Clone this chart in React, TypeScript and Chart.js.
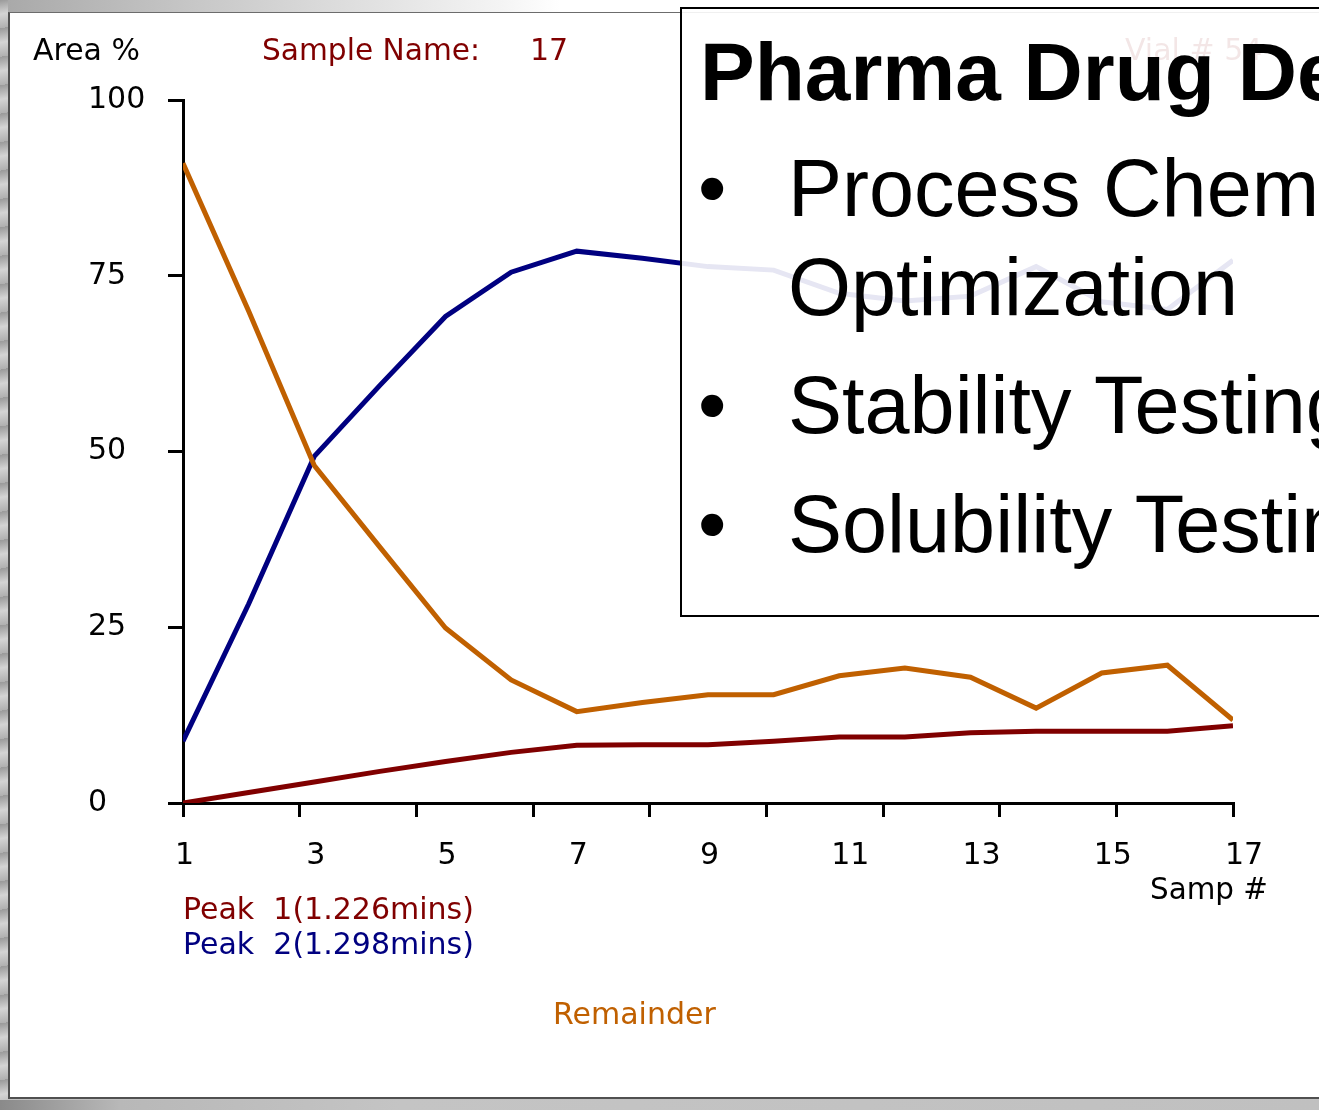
import React, { useEffect, useRef } from 'react';
import { Chart, registerables } from 'chart.js';

Chart.register(...registerables);

// ---- data ----
const samples = [1, 2, 3, 4, 5, 6, 7, 8, 9, 10, 11, 12, 13, 14, 15, 16, 17];
const peak1 = [0, 1.5, 3.0, 4.5, 5.9, 7.2, 8.2, 8.3, 8.3, 8.8, 9.4, 9.4, 10.0, 10.2, 10.2, 10.2, 11.0];
const peak2 = [8.8, 28.3, 49.3, 59.4, 69.2, 75.5, 78.5, 77.5, 76.3, 75.8, 72.5, 71.4, 72.1, 76.3, 71.3, 70.2, 77.2];
const remainder = [91.0, 70.0, 48.0, 36.4, 24.9, 17.5, 13.0, 14.3, 15.4, 15.4, 18.1, 19.2, 17.9, 13.5, 18.5, 19.6, 11.8];

const seriesLabels = ['Peak  1(1.226mins)', 'Peak  2(1.298mins)', 'Remainder'];
const seriesColors = ['#800000', '#000080', '#C06000'];

const yTicks = [0, 25, 50, 75, 100];
const xLabelStep = 2;
const xTickMarkCount = 9; // intervals of the plain tick marks

const yAxisTitle = 'Area %';
const xAxisTitle = 'Samp #';
const sampleNameLabel = 'Sample Name:';
const sampleName = '17';
const vialLabel = 'Vial # 54';

const slideTitle = 'Pharma Drug Development';
const slideBullets = ['Process Chemistry', 'Stability Testing', 'Solubility Testing'];
const slideContinuation = 'Optimization';

const CHART_FONT = '"DejaVu Sans", sans-serif';
const SLIDE_FONT = '"Liberation Sans", Arial, sans-serif';

const overlayPlugin = {
  id: 'overlayTexts',
  afterDraw(chart: any) {
    const ctx: CanvasRenderingContext2D = chart.ctx;
    ctx.save();
    ctx.textAlign = 'left';
    ctx.textBaseline = 'alphabetic';
    ctx.font = `30px ${CHART_FONT}`;

    ctx.fillStyle = '#000';
    ctx.fillText(yAxisTitle, 33, 60, 107);
    ctx.fillStyle = '#800000';
    ctx.fillText(sampleNameLabel, 262, 60, 218);
    ctx.fillText(sampleName, 530, 60);
    ctx.fillText(vialLabel, 1125, 60);

    ctx.fillStyle = '#000';
    ctx.fillText(xAxisTitle, 1150, 899, 118);

    // legend (text in series colours)
    const ds = chart.data.datasets;
    const legendPos = [
      [183, 919, 295],
      [183, 954, 295],
      [553, 1024, 164],
    ];
    ds.forEach((d: any, i: number) => {
      ctx.fillStyle = d.borderColor;
      const [x, y, w] = legendPos[i];
      ctx.fillText(d.label, x, y, w);
    });

    // slide text box overlay
    ctx.fillStyle = 'rgba(255,255,255,0.9)';
    ctx.fillRect(681, 8, 700, 608);
    ctx.strokeStyle = '#000';
    ctx.lineWidth = 2;
    ctx.strokeRect(681, 8, 700, 608);

    ctx.fillStyle = '#000';
    ctx.font = `bold 82px ${SLIDE_FONT}`;
    ctx.fillText(slideTitle, 700, 100);
    ctx.font = `81px ${SLIDE_FONT}`;
    ctx.fillText('\u2022', 698, 216);
    ctx.fillText(slideBullets[0], 788, 216);
    ctx.fillText(slideContinuation, 788, 315);
    ctx.fillText('\u2022', 698, 433);
    ctx.fillText(slideBullets[1], 788, 433);
    ctx.fillText('\u2022', 698, 552);
    ctx.fillText(slideBullets[2], 788, 552);
    ctx.restore();
  },
};

export default function App() {
  const canvasRef = useRef<HTMLCanvasElement | null>(null);

  useEffect(() => {
    const canvas = canvasRef.current;
    if (!canvas) return;
    const data = [peak1, peak2, remainder];
    const chart = new Chart(canvas, {
      type: 'line',
      data: {
        datasets: data.map((vals, i) => ({
          label: seriesLabels[i],
          data: samples.map((s, j) => ({ x: s, y: vals[j] })),
          xAxisID: 'x',
          yAxisID: 'y',
          borderColor: seriesColors[i],
          backgroundColor: seriesColors[i],
          borderWidth: 5,
          pointRadius: 0,
          tension: 0,
          fill: false,
          order: 3 - i,
        })),
      },
      options: {
        responsive: false,
        animation: false,
        devicePixelRatio: 1,
        layout: { padding: { left: 88, top: 100, right: 86, bottom: 1110 - 803 - 14 - 70 } },
        plugins: { legend: { display: false }, tooltip: { enabled: false }, title: { display: false } },
        scales: {
          y: {
            type: 'linear',
            position: 'left',
            min: 0,
            max: 100,
            afterBuildTicks: (s: any) => {
              s.ticks = yTicks.map((v) => ({ value: v }));
            },
            afterFit: (s: any) => {
              s.width = 95;
            },
            ticks: {
              crossAlign: 'far',
              color: '#000',
              font: { family: CHART_FONT, size: 30 },
            },
            grid: { drawOnChartArea: false, drawTicks: true, tickLength: 15, color: '#000', lineWidth: 3 },
            border: { display: true, color: '#000', width: 3 },
          },
          x2: {
            type: 'linear',
            position: 'bottom',
            weight: 0,
            min: 0,
            max: xTickMarkCount,
            ticks: { display: false, stepSize: 1 },
            afterFit: (s: any) => {
              s.height = 14;
            },
            grid: { drawOnChartArea: false, drawTicks: true, tickLength: 14, color: '#000', lineWidth: 3 },
            border: { display: true, color: '#000', width: 3 },
          },
          x: {
            type: 'linear',
            position: 'bottom',
            weight: 1,
            min: samples[0],
            max: samples[samples.length - 1],
            afterFit: (s: any) => {
              s.height = 70;
            },
            ticks: {
              stepSize: xLabelStep,
              align: 'start',
              labelOffset: -8,
              padding: 21,
              autoSkip: false,
              maxRotation: 0,
              color: '#000',
              font: { family: CHART_FONT, size: 30 },
            },
            grid: { display: false, drawTicks: false },
            border: { display: false },
          },
        },
      },
      plugins: [overlayPlugin],
    } as any);
    return () => chart.destroy();
  }, []);

  return (
    <div
      style={{
        position: 'fixed',
        left: 0,
        top: 0,
        width: 1319,
        height: 1110,
        overflow: 'hidden',
        background: '#c2c2c2',
      }}
    >
      <div
        style={{
          position: 'absolute',
          left: 0,
          top: 0,
          width: 1319,
          height: 12,
          background: 'linear-gradient(to right, #a8a8a8 0px, #c8c8c8 200px, #f4f4f4 500px, #ffffff 560px)',
        }}
      />
      <div
        style={{
          position: 'absolute',
          left: 0,
          top: 0,
          width: 8,
          height: 1110,
          background: 'repeating-linear-gradient(170deg, #9a9a9a 0px, #d4d4d4 14px, #b0b0b0 28px)',
        }}
      />
      <div
        style={{
          position: 'absolute',
          left: 0,
          top: 1100,
          width: 1319,
          height: 10,
          background: 'linear-gradient(to right, #8a8a8a 0px, #b8b8b8 120px, #c4c4c4 400px, #c0c0c0 1319px)',
        }}
      />
      <div
        style={{
          position: 'absolute',
          left: 8,
          top: 12,
          width: 1330,
          height: 1087,
          background: '#ffffff',
          borderTop: '1px solid #6c6c6c',
          borderLeft: '2px solid #505050',
          borderBottom: '2px solid #505050',
          boxSizing: 'border-box',
        }}
      />
      <canvas
        ref={canvasRef}
        width={1319}
        height={1110}
        style={{ position: 'absolute', left: 0, top: 0, width: 1319, height: 1110 }}
      />
    </div>
  );
}
